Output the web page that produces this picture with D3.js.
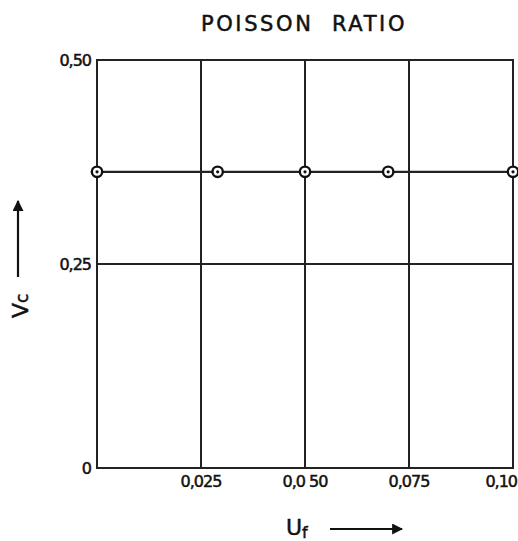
<!DOCTYPE html>
<html>
<head>
  <style>
    body { margin: 0px; padding: 0px; background: #fff; }
    text { font-family: "DejaVu Sans", sans-serif; fill: #111; stroke: #111; stroke-width: 0.5; }
  </style>
</head>
<body>
  <div id="chart"></div>
  <script src="https://d3js.org/d3.v7.min.js"></script>
  <script>
    // data
    var uf = [0, 0.029, 0.050, 0.070, 0.100];
    var vc = [0.363, 0.363, 0.363, 0.363, 0.363];
    var xTicks = [0.025, 0.050, 0.075, 0.10];
    var xTickLabels = ['0,025', '0,0 50', '0,075', '0,10'];
    var yTicks = [0, 0.25, 0.50];
    var yTickLabels = ['0', '0,25', '0,50'];

    var width = 518, height = 541;
    var svg = d3.select('#chart').append('svg').attr('width', width).attr('height', height);

    var x = d3.scaleLinear().domain([0, 0.1]).range([97, 513]);
    var y = d3.scaleLinear().domain([0, 0.5]).range([468, 60]);

    // frame
    svg.append('rect')
      .attr('x', x(0)).attr('y', y(0.5))
      .attr('width', x(0.1) - x(0)).attr('height', y(0) - y(0.5))
      .attr('fill', 'none').attr('stroke', '#222').attr('stroke-width', 2);

    // vertical grid
    svg.selectAll('.vgrid')
      .data(xTicks)
      .enter()
      .append('line')
      .attr('x1', function(d) { return x(d); })
      .attr('x2', function(d) { return x(d); })
      .attr('y1', y(0)).attr('y2', y(0.5))
      .attr('stroke', '#222').attr('stroke-width', 2);

    // horizontal grid
    svg.selectAll('.hgrid')
      .data(yTicks)
      .enter()
      .append('line')
      .attr('x1', x(0)).attr('x2', x(0.1))
      .attr('y1', function(d) { return y(d); })
      .attr('y2', function(d) { return y(d); })
      .attr('stroke', '#222').attr('stroke-width', 2);

    // x tick labels
    svg.selectAll('.xlab')
      .data(xTicks)
      .enter()
      .append('text')
      .attr('x', function(d, i) { return i == xTicks.length - 1 ? 517 : x(d); })
      .attr('y', 487)
      .attr('text-anchor', function(d, i) { return i == xTicks.length - 1 ? 'end' : 'middle'; })
      .attr('font-size', 16)
      .attr('letter-spacing', -1)
      .text(function(d, i) { return xTickLabels[i]; });

    // y tick labels
    svg.selectAll('.ylab')
      .data(yTicks)
      .enter()
      .append('text')
      .attr('x', 91)
      .attr('y', function(d) { return y(d) + 6; })
      .attr('text-anchor', 'end')
      .attr('font-size', 16)
      .attr('letter-spacing', -1)
      .text(function(d, i) { return yTickLabels[i]; });

    // data line
    var pts = uf.map(function(d, i) { return [d, vc[i]]; });
    var line = d3.line().x(function(d) { return x(d[0]); }).y(function(d) { return y(d[1]); });
    svg.append('path').attr('d', line(pts))
      .attr('fill', 'none').attr('stroke', '#222').attr('stroke-width', 2.2);

    // markers
    var mk = svg.selectAll('.mk').data(pts).enter().append('g')
      .attr('transform', function(d) { return 'translate(' + x(d[0]) + ',' + y(d[1]) + ')'; });
    mk.append('circle').attr('r', 5.2).attr('fill', '#fff').attr('stroke', '#111').attr('stroke-width', 2.4);
    mk.append('circle').attr('r', 1.6).attr('fill', '#111');

    // title
    svg.append('text')
      .attr('x', 304).attr('y', 31)
      .attr('text-anchor', 'middle')
      .attr('font-size', 21)
      .attr('letter-spacing', 2.6)
      .attr('xml:space', 'preserve')
      .text('POISSON  RATIO');

    // arrowheads
    svg.append('defs').append('marker')
      .attr('id', 'arr').attr('viewBox', '0 0 10 10')
      .attr('refX', 9).attr('refY', 5)
      .attr('markerWidth', 5).attr('markerHeight', 5)
      .attr('markerUnits', 'strokeWidth')
      .attr('orient', 'auto')
      .append('path').attr('d', 'M0,0 L10,5 L0,10 Z').attr('fill', '#111');

    // x axis label
    var xl = svg.append('text').attr('x', 286).attr('y', 535).attr('font-size', 22);
    xl.append('tspan').text('U');
    xl.append('tspan').attr('font-size', 16).attr('dy', 3).text('f');
    svg.append('line')
      .attr('x1', 330).attr('x2', 402).attr('y1', 529).attr('y2', 529)
      .attr('stroke', '#111').attr('stroke-width', 2.2)
      .attr('marker-end', 'url(#arr)');

    // y axis label
    var yl = svg.append('text').attr('transform', 'translate(28,318) rotate(-90)').attr('font-size', 22);
    yl.append('tspan').text('V');
    yl.append('tspan').attr('font-size', 17).text('c');
    svg.append('line')
      .attr('x1', 18).attr('x2', 18).attr('y1', 277).attr('y2', 201)
      .attr('stroke', '#111').attr('stroke-width', 2.2)
      .attr('marker-end', 'url(#arr)');
  </script>
</body>
</html>
